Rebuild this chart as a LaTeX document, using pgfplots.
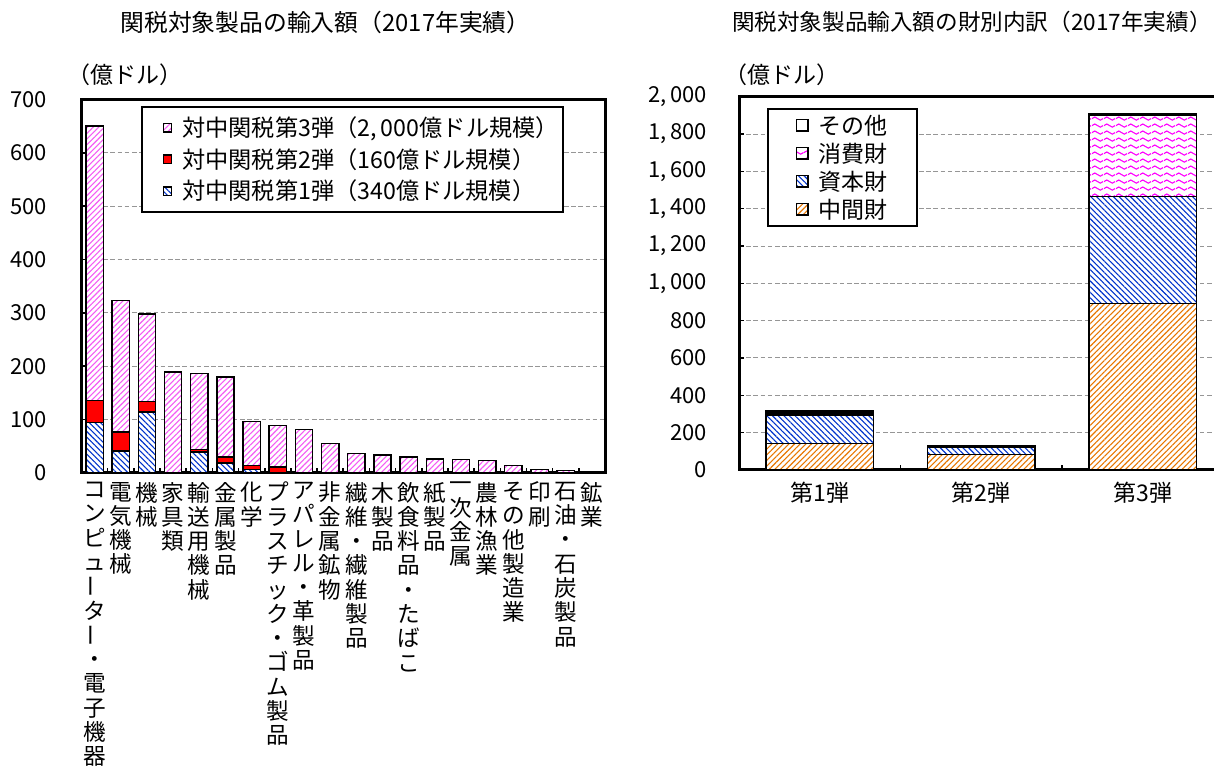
\documentclass[border=0pt]{standalone}
\usepackage{fontspec}
\setmainfont{Noto Sans CJK JP}
\usepackage{pgfplots}
\pgfplotsset{compat=1.18}
\usetikzlibrary{patterns,patterns.meta}

\definecolor{pinkh}{RGB}{245,90,245}
\definecolor{blueh}{RGB}{0,51,204}
\definecolor{orangeh}{RGB}{232,119,0}
\definecolor{magh}{RGB}{255,0,255}
\definecolor{redf}{RGB}{255,0,0}
\definecolor{gridc}{RGB}{150,150,150}

\tikzdeclarepattern{
  name=Waves, type=uncolored,
  bounding box={(0pt,0pt) and (6pt,3.7pt)},
  tile size={(6pt,3.7pt)},
  code={\draw[line width=0.6pt] (0pt,1.85pt) sin (1.5pt,2.7pt) cos (3pt,1.85pt) sin (4.5pt,1pt) cos (6pt,1.85pt);}
}
\newcommand{\cho}{\raisebox{0.16em}{\rotatebox[origin=c]{90}{ー}}}

\pgfplotsset{
  mybase/.style={
    scale only axis, anchor=south west,
    ybar stacked,
    tick align=inside, tick pos=left,
    major tick length=2.5pt,
    tick style={black, line width=0.8pt},
    axis line style={line width=1.5pt},
    ymajorgrids, grid style={gridc, line width=0.5pt, dash pattern=on 2.3pt off 1.3pt},
    scaled y ticks=false,
    /pgf/number format/assume math mode=true,
    /pgf/number format/1000 sep={,\hspace{0.18em}},
    yticklabel style={font=\fontsize{11}{13}\selectfont},
    legend cell align=left,
    reverse legend,
    xticklabels={},
    extra x tick style={tick style={draw=none}},
  },
  sqL/.style={legend image code/.code={\path (0pt,0pt); \draw[##1] (10.35pt,-2.1pt) rectangle (14.5pt,2.1pt);}},
  sqR/.style={legend image code/.code={\path (0pt,0pt); \draw[##1] (14pt,-2.9pt) rectangle (19.8pt,2.9pt);}},
  pinkS/.style={draw=black, line width=0.7pt, fill=white, postaction={pattern={Lines[angle=45,distance=2pt,line width=0.55pt]}, pattern color=pinkh, draw=black, line width=0.7pt}},
  blueS/.style={draw=black, line width=0.7pt, fill=white, postaction={pattern={Lines[angle=-45,distance=2pt,line width=0.55pt]}, pattern color=blueh, draw=black, line width=0.7pt}},
  redS/.style={draw=black, line width=0.7pt, fill=redf},
  orangeS/.style={draw=black, line width=0.7pt, fill=white, postaction={pattern={Lines[angle=45,distance=2pt,line width=0.55pt]}, pattern color=orangeh, draw=black, line width=0.7pt}},
  waveS/.style={draw=black, line width=0.7pt, fill=white, postaction={pattern=Waves, pattern color=magh, draw=black, line width=0.7pt}},
  whiteS/.style={draw=black, line width=0.7pt, fill=white},
}

\begin{document}
\begin{tikzpicture}
\useasboundingbox (0,0) rectangle (607pt,384.5pt);
\clip (0,0) rectangle (607pt,384.5pt);

% ---------------- left chart ----------------
\begin{axis}[mybase,
  at={(40.75pt,148pt)}, width=261.75pt, height=186.75pt,
  bar width=0.66,
  xmin=-0.5, xmax=19.5, ymin=0, ymax=700,
  ytick={0,100,...,700},
  xtick={-0.5,0.5,...,19.5},
  extra x ticks={0,...,19},
  extra x tick labels={
    コ\\ン\\ピ\\ュ\\\cho\\タ\\\cho\\・\\電\\子\\機\\器,
    電\\気\\機\\械,
    機\\械,
    家\\具\\類,
    輸\\送\\用\\機\\械,
    金\\属\\製\\品,
    化\\学,
    プ\\ラ\\ス\\チ\\ッ\\ク\\・\\ゴ\\ム\\製\\品,
    ア\\パ\\レ\\ル\\・\\革\\製\\品,
    非\\金\\属\\鉱\\物,
    繊\\維\\・\\繊\\維\\製\\品,
    木\\製\\品,
    飲\\食\\料\\品\\・\\た\\ば\\こ,
    紙\\製\\品,
    一\\次\\金\\属,
    農\\林\\漁\\業,
    そ\\の\\他\\製\\造\\業,
    印\\刷,
    石\\油\\・\\石\\炭\\製\\品,
    鉱\\業},
  xticklabel style={anchor=north, align=center, font=\fontsize{11.3}{12.15}\selectfont, yshift=-1pt},
  yticklabel style={xshift=-13.7pt},
  legend style={at={(0.1137,0.9826)}, anchor=north west, draw=black, line width=0.8pt, fill=white,
    font=\fontsize{11.6}{13}\selectfont, inner xsep=0pt, inner ysep=2.5pt, row sep=0pt, column sep=3pt,
    nodes={inner xsep=2pt, inner ysep=0pt, text height=12.3pt, text depth=3.55pt}},
]
\addplot[blueS, sqL] coordinates {(0,95) (1,41) (2,114) (3,0) (4,39) (5,19) (6,7) (7,1) (8,0) (9,0) (10,0) (11,0) (12,0) (13,0) (14,0) (15,0) (16,0) (17,0) (18,0) (19,0)};
\addlegendentry{対中関税第1弾（340億ドル規模）}
\addplot[redS, sqL] coordinates {(0,41) (1,36) (2,20) (3,0) (4,5) (5,11) (6,7) (7,10) (8,0) (9,0) (10,0) (11,0) (12,0) (13,0) (14,0) (15,0) (16,0) (17,0) (18,0) (19,0)};
\addlegendentry{対中関税第2弾（160億ドル規模）}
\addplot[pinkS, sqL] coordinates {(0,514) (1,246) (2,164) (3,189) (4,142) (5,150) (6,82) (7,78) (8,82) (9,55) (10,37) (11,34) (12,30) (13,26) (14,25) (15,23) (16,14) (17,6) (18,5) (19,0)};
\addlegendentry{対中関税第3弾（2,\hspace{0.18em}000億ドル規模）}
\end{axis}

% ---------------- right chart ----------------
\begin{axis}[mybase,
  at={(369.5pt,149.5pt)}, width=242.25pt, height=186.65pt,
  bar width=0.666,
  xmin=-0.5, xmax=2.5, ymin=0, ymax=2000,
  ytick={0,200,...,2000},
  xtick={-0.5,0.5,1.5,2.5},
  extra x ticks={0,1,2},
  extra x tick labels={第1弾,第2弾,第3弾},
  xticklabel style={font=\fontsize{11.5}{13}\selectfont, yshift=-2.3pt},
  yticklabel style={xshift=-12.5pt},
  legend style={at={(0.0578,0.9697)}, anchor=north west, draw=black, line width=0.8pt, fill=white,
    font=\fontsize{11.5}{13}\selectfont, inner xsep=0pt, inner ysep=1.25pt, row sep=0pt, column sep=3pt,
    nodes={inner xsep=2pt, inner ysep=0pt, text height=11.4pt, text depth=2.6pt}},
]
\addplot[orangeS, sqR] coordinates {(0,143) (1,84) (2,893)};
\addlegendentry{\makebox[47pt][l]{中間財}}
\addplot[blueS, sqR] coordinates {(0,152) (1,39) (2,571)};
\addlegendentry{\makebox[47pt][l]{資本財}}
\addplot[waveS, sqR] coordinates {(0,10) (1,3) (2,438)};
\addlegendentry{\makebox[47pt][l]{消費財}}
\addplot[whiteS, sqR] coordinates {(0,11) (1,6) (2,9)};
\addlegendentry{\makebox[47pt][l]{その他}}
\end{axis}

% titles and unit labels
\node[font=\fontsize{11.9}{14}\selectfont] at (162.75pt,373.5pt) {関税対象製品の輸入額（2017年実績）};
\node[font=\fontsize{11.3}{14}\selectfont, anchor=east, inner xsep=0pt] at (606pt,373.5pt) {関税対象製品輸入額の財別内訳（2017年実績）};
\node[font=\fontsize{11.5}{14}\selectfont] at (62.5pt,347pt) {（億ドル）};
\node[font=\fontsize{11.5}{14}\selectfont] at (391pt,347pt) {（億ドル）};
\end{tikzpicture}
\end{document}
